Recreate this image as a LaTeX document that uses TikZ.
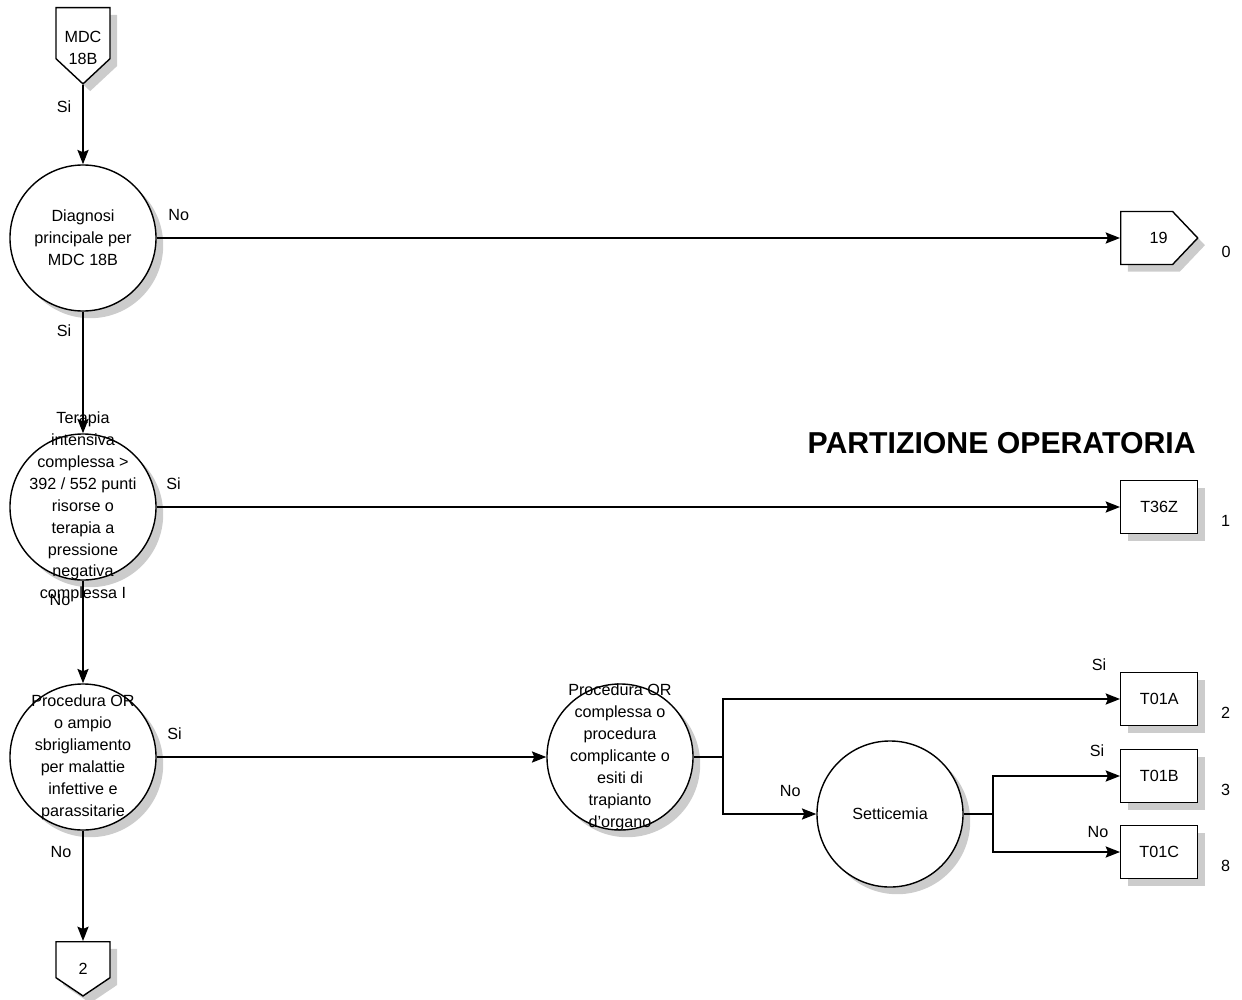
\documentclass[tikz,border=0pt]{standalone}
\usepackage{fontspec}
\setmainfont{Liberation Sans}
\usepackage{tikz}
\usetikzlibrary{arrows.meta,positioning,shapes.symbols,shadows,calc}
\tikzset{
  every picture/.style={line width=1pt},
  >={Stealth[length=0.36cm, width=0.28cm, inset=0.06cm]},
  every node/.style={font=\fontsize{11.5}{15.6}\selectfont},
  grigio/.style={general shadow={shadow xshift=0.18cm, shadow yshift=-0.18cm, fill=gray!40}},
  decision/.style={draw, circle, fill=white, minimum size=3.65cm, inner sep=0cm, grigio},
  dtext/.style={align=center, inner sep=0cm},
  leaf/.style={draw, rectangle, fill=white, minimum width=1.925cm, minimum height=1.325cm, grigio, label={[drgnum]east:#1}},
  drgnum/.style={xshift=0.435cm, yshift=-0.35cm},
  offpage/.style={draw, signal, fill=white, inner sep=0cm, grigio},
  elbl/.style={inner sep=0.1cm}
}

\begin{document}
\begin{tikzpicture}[x=0.025cm, y=-0.025cm]
    \useasboundingbox (0,0) rectangle (1242,999);

    % colonna di sinistra
    \node [offpage, signal to=south, signal pointer angle=94, minimum width=1.35cm, minimum height=1.275cm, anchor=north, label={[dtext, yshift=-0.36cm]center:{MDC\\18B}}] (mdc) at (83,7) {};
    \node [decision, label={[dtext]center:{Diagnosi\\principale per\\MDC 18B}}] (c1) at (83,238) {};
    \node [decision, label={[dtext]center:{Terapia\\intensiva\\complessa >\\392 / 552 punti\\risorse o\\terapia a\\pressione\\negativa\\complessa I}}] (c2) at (83,507) {};
    \node [decision, label={[dtext]center:{Procedura OR\\o ampio\\sbrigliamento\\per malattie\\infettive e\\parassitarie}}] (c3) at (83,757) {};
    \node [offpage, signal to=south, signal pointer angle=112, minimum width=1.35cm, minimum height=0.9cm, anchor=north, label={[dtext, yshift=-0.225cm]center:2}] (n2) at (83,941) {};

    % partizione operatoria
    \node [decision, label={[dtext]center:{Procedura OR\\complessa o\\procedura\\complicante o\\esiti di\\trapianto\\d'organo}}] (c4) at (620,757) {};
    \node [decision, label={[dtext]center:Setticemia}] (c5) at (890,814) {};
    \coordinate (j1) at (723,757);
    \coordinate (j2) at (993,814);

    \node [offpage, signal to=east, signal pointer angle=93, minimum width=1.925cm, minimum height=1.325cm, anchor=west, label={[dtext, xshift=0.3cm]center:19}, label={[drgnum]east:0}] (n19) at (1120,238) {};
    \node [leaf=1, anchor=west] (t36z) at (1120,507) {T36Z};
    \node [leaf=2, anchor=west] (t01a) at (1120,699) {T01A};
    \node [leaf=3, anchor=west] (t01b) at (1120,776) {T01B};
    \node [leaf=8, anchor=west] (t01c) at (1120,852) {T01C};

    \node [font=\bfseries\fontsize{21.5}{25}\selectfont, anchor=base east] (title) at (1201,453) {PARTIZIONE OPERATORIA};

    \draw(mdc) edge[->] node[elbl, pos=0.27, left=0.175cm]{Si} (c1);
    \draw(c1) edge[->] node[elbl, pos=0, above right=0.325cm and 0.175cm]{No} (n19);
    \draw(c1) edge[->] node[elbl, pos=0.16, left=0.175cm]{Si} (c2);
    \draw(c2) edge[->] node[elbl, pos=0, above right=0.325cm and 0.125cm]{Si} (t36z);
    \draw(c2) edge[->] node[elbl, pos=0.19, left=0.2cm]{No} (c3);
    \draw(c3) edge[->] node[elbl, pos=0, above right=0.325cm and 0.15cm]{Si} (c4);
    \draw(c3) edge[->] node[elbl, pos=0.19, left=0.175cm]{No} (n2);

    \draw (c4) -- (j1);
    \draw[->] (j1) |- node[elbl, pos=1, above left=0.6cm and 0.225cm]{Si} (t01a);
    \draw[->] (j1) |- node[elbl, pos=1, above left=0.325cm and 0.275cm]{No} (c5);

    \draw (c5) -- (j2);
    \draw[->] (j2) |- node[elbl, pos=1, above left=0.375cm and 0.275cm]{Si} (t01b);
    \draw[->] (j2) |- node[elbl, pos=1, above left=0.25cm and 0.175cm]{No} (t01c);
  \end{tikzpicture}
\end{document}
